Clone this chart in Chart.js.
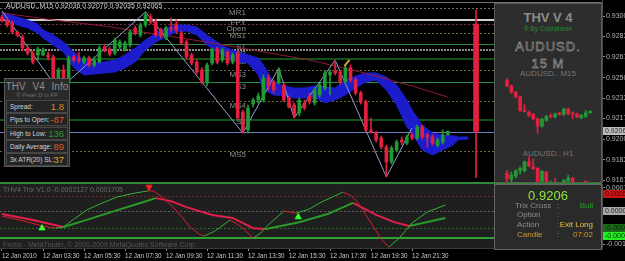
<!DOCTYPE html>
<html>
<head>
<meta charset="utf-8">
<script src="https://cdn.jsdelivr.net/npm/chart.js@4.4.1/dist/chart.umd.min.js"></script>
<style>
html, body { margin: 0; padding: 0; background: #000; }
body { width: 625px; height: 261px; overflow: hidden; position: relative; font-family: "Liberation Sans", Arial, sans-serif; }
canvas { position: absolute; }
.panel { position: absolute; box-sizing: border-box; background: #2a2a2a; border: 1px solid #5a5a5a; }
.t { position: absolute; white-space: nowrap; line-height: 1; }
.row { position: absolute; left: 1px; width: 62px; height: 13px; box-sizing: border-box; border: 1px solid #474747; background: #242424; }
.row .lab { left: 3px; top: 3px; font-size: 6.5px; color: #d4d4d4; }
.row .val { right: 3px; top: 1px; font-size: 9.5px; }
.c { left: 0; width: 100%; text-align: center; }
.outline { color: #2d2d2d; -webkit-text-stroke: 0.45px #b8b8b8; font-size: 13px; letter-spacing: 1px; }
.sig { font-size: 8px; color: #8c8c8c; }
</style>
</head>
<body>
<canvas id="mainChart" width="625" height="183" style="left:0;top:0"></canvas>
<div style="position:absolute;left:0;top:182px;width:602px;height:2px;background:#2f8a36"></div>
<canvas id="trixChart" width="625" height="77" style="left:0;top:184px"></canvas>

<div class="panel" style="left:4px;top:78px;width:66px;height:89px;">
  <div class="t c" style="top:3px;font-size:10px;color:#8e8e8e;word-spacing:4px">THV V4 Info</div>
  <div class="t c" style="top:13px;font-size:6px;color:#6e6e6e">® Peter D in FF</div>
  <div id="infoRows"></div>
</div>

<div class="panel" style="left:494px;top:3px;width:108px;height:180px;background:#2d2d2d;">
  <div class="t c" style="top:7px;font-size:13px;font-weight:bold;color:#8c8c8c">THV V 4</div>
  <div class="t c" style="top:22px;font-size:6.5px;color:#22902a">® By Cobraforex</div>
  <div class="t c outline" style="top:36px">AUDUSD.</div>
  <div class="t c outline" style="top:53px">15 M</div>
  <div class="t c" style="top:66px;font-size:8px;color:#767676">AUDUSD.. M15</div>
  <div class="t c" style="top:146px;font-size:8px;color:#767676">AUDUSD.. H1</div>
</div>
<canvas id="m15Chart" width="105" height="78" style="left:495px;top:74px"></canvas>
<canvas id="h1Chart" width="105" height="26" style="left:495px;top:156px"></canvas>

<div class="panel" style="left:494px;top:184px;width:108px;height:66px;background:#2a2a2a;border-color:#666">
  <div class="t c" style="top:4px;font-size:13px;color:#8fe634">0.9206</div>
  <div class="t sig" style="left:20px;top:17px">Trix Cross</div>
  <div class="t sig" style="left:62px;top:17px">:</div>
  <div class="t sig" style="right:8px;top:17px;color:#2aa02e">Bull</div>
  <div class="t sig" style="left:22px;top:26px">Option</div>
  <div class="t sig" style="left:62px;top:26px">:</div>
  <div class="t sig" style="left:22px;top:36px">Action</div>
  <div class="t sig" style="left:62px;top:36px">:</div>
  <div class="t sig" style="right:8px;top:36px;color:#e6c23a">Exit Long</div>
  <div class="t sig" style="left:22px;top:46px;color:#d89a2a">Candle</div>
  <div class="t sig" style="left:62px;top:46px">:</div>
  <div class="t sig" style="right:8px;top:46px;color:#d89a2a">07:02</div>
</div>

<script>
// ---- price data (M15 bars, bar 0 = 12 Jan 01:30) ----
const symbol = 'AUDUSD.';
const opens = [
  0.92992, 0.92968, 0.92943, 0.92870, 0.92830, 0.92741, 0.92700, 0.92684, 0.92684, 0.92684,
  0.92668, 0.92465, 0.92562, 0.92457, 0.92668, 0.92652, 0.92627, 0.92660, 0.92603, 0.92627,
  0.92749, 0.92733, 0.92700, 0.92749, 0.92733, 0.92765, 0.92903, 0.92846, 0.92927, 0.92992,
  0.92952, 0.92887, 0.92822, 0.92903, 0.92935, 0.92862, 0.92789, 0.92684, 0.92627, 0.92562,
  0.92457, 0.92619, 0.92733, 0.92643, 0.92708, 0.92627, 0.92700, 0.92222, 0.92076, 0.92286,
  0.92319, 0.92319, 0.92497, 0.92465, 0.92465, 0.92441, 0.92335, 0.92278, 0.92214, 0.92295,
  0.92352, 0.92295, 0.92360, 0.92416, 0.92522, 0.92554, 0.92546, 0.92465, 0.92579, 0.92481,
  0.92376, 0.92303, 0.92076, 0.92051, 0.92011, 0.91938, 0.91816, 0.91914, 0.91995, 0.91970,
  0.92035, 0.92011, 0.92100, 0.92035, 0.92019, 0.91954, 0.91978, 0.92036
];
const highs = [
  0.93008, 0.92984, 0.92960, 0.92879, 0.92846, 0.92765, 0.92716, 0.92749, 0.92741, 0.92708,
  0.92684, 0.92579, 0.92603, 0.92676, 0.92684, 0.92708, 0.92676, 0.92676, 0.92668, 0.92757,
  0.92773, 0.92749, 0.92822, 0.92806, 0.92797, 0.92887, 0.92919, 0.92943, 0.93033, 0.93016,
  0.92976, 0.92903, 0.92919, 0.92984, 0.92968, 0.92879, 0.92806, 0.92700, 0.92643, 0.92579,
  0.92619, 0.92741, 0.92749, 0.92741, 0.92725, 0.92700, 0.92725, 0.92238, 0.92278, 0.92335,
  0.92376, 0.92522, 0.92522, 0.92481, 0.92579, 0.92457, 0.92352, 0.92295, 0.92335, 0.92319,
  0.92376, 0.92416, 0.92457, 0.92554, 0.92562, 0.92643, 0.92562, 0.92595, 0.92603, 0.92497,
  0.92392, 0.92319, 0.92173, 0.92068, 0.92027, 0.91954, 0.91946, 0.91995, 0.92019, 0.92035,
  0.92051, 0.92116, 0.92116, 0.92051, 0.92035, 0.92011, 0.92076, 0.92070
];
const lows = [
  0.92952, 0.92911, 0.92854, 0.92830, 0.92725, 0.92684, 0.92611, 0.92643, 0.92676, 0.92643,
  0.92441, 0.92400, 0.92457, 0.92416, 0.92627, 0.92619, 0.92611, 0.92587, 0.92587, 0.92619,
  0.92708, 0.92676, 0.92684, 0.92733, 0.92716, 0.92749, 0.92846, 0.92830, 0.92911, 0.92935,
  0.92830, 0.92822, 0.92806, 0.92870, 0.92862, 0.92765, 0.92652, 0.92603, 0.92530, 0.92449,
  0.92433, 0.92603, 0.92611, 0.92627, 0.92603, 0.92611, 0.92157, 0.92051, 0.92051, 0.92262,
  0.92295, 0.92303, 0.92400, 0.92376, 0.92449, 0.92303, 0.92254, 0.92173, 0.92189, 0.92238,
  0.92286, 0.92278, 0.92343, 0.92400, 0.92360, 0.92522, 0.92449, 0.92449, 0.92465, 0.92360,
  0.92286, 0.92060, 0.92051, 0.91978, 0.91922, 0.91695, 0.91800, 0.91897, 0.91954, 0.91954,
  0.91995, 0.91995, 0.92003, 0.91938, 0.91954, 0.91938, 0.91962, 0.92035
];
const closes = [
  0.92960, 0.92927, 0.92870, 0.92846, 0.92741, 0.92700, 0.92627, 0.92733, 0.92725, 0.92668,
  0.92465, 0.92562, 0.92481, 0.92660, 0.92643, 0.92643, 0.92660, 0.92603, 0.92643, 0.92741,
  0.92725, 0.92692, 0.92806, 0.92789, 0.92781, 0.92870, 0.92862, 0.92927, 0.93008, 0.92952,
  0.92846, 0.92838, 0.92903, 0.92895, 0.92887, 0.92781, 0.92668, 0.92619, 0.92546, 0.92465,
  0.92603, 0.92725, 0.92627, 0.92725, 0.92619, 0.92684, 0.92173, 0.92076, 0.92254, 0.92319,
  0.92352, 0.92497, 0.92433, 0.92400, 0.92546, 0.92319, 0.92262, 0.92197, 0.92319, 0.92254,
  0.92303, 0.92400, 0.92441, 0.92538, 0.92546, 0.92538, 0.92465, 0.92579, 0.92481, 0.92376,
  0.92303, 0.92076, 0.92060, 0.91995, 0.91938, 0.91816, 0.91930, 0.91978, 0.91978, 0.92019,
  0.92011, 0.92100, 0.92019, 0.92019, 0.91970, 0.91995, 0.92035, 0.92065
];

// daily candle drawn right of the last bar
const dailyAt = [92.5];
const dailyOpen = [0.92935];
const dailyHigh = [0.93050];
const dailyLow = [0.91690];
const dailyClose = [0.92065];

// blue cloud band
const cloudK = [0, 3, 5, 7, 8, 10, 12, 14, 16, 18, 20, 22, 24, 26, 28, 30, 32, 34, 36, 38, 40, 42, 44, 46, 48,
  50, 51, 53, 55, 57, 59, 61, 63, 65, 67, 69, 71, 73, 75, 77, 79, 80, 82, 84, 86, 88, 89, 91];
const cloudTop = [0.93033, 0.92992, 0.92968, 0.92935, 0.92887, 0.92846, 0.92789, 0.92708, 0.92643, 0.92619,
  0.92627, 0.92643, 0.92684, 0.92741, 0.92806, 0.92862, 0.92903, 0.92927, 0.92927, 0.92911,
  0.92846, 0.92789, 0.92741, 0.92708, 0.92684, 0.92660, 0.92603, 0.92465, 0.92433, 0.92416,
  0.92416, 0.92433, 0.92424, 0.92416, 0.92481, 0.92514, 0.92538, 0.92538, 0.92506, 0.92441,
  0.92319, 0.92238, 0.92116, 0.92051, 0.92035, 0.92027, 0.92019, 0.92019];
const cloudBot = [0.92984, 0.92927, 0.92903, 0.92862, 0.92822, 0.92765, 0.92708, 0.92579, 0.92522, 0.92530,
  0.92538, 0.92546, 0.92579, 0.92627, 0.92725, 0.92789, 0.92830, 0.92870, 0.92879, 0.92846,
  0.92765, 0.92708, 0.92660, 0.92627, 0.92619, 0.92522, 0.92400, 0.92360, 0.92352, 0.92335,
  0.92335, 0.92343, 0.92295, 0.92319, 0.92360, 0.92416, 0.92465, 0.92481, 0.92400, 0.92278,
  0.92100, 0.92051, 0.91914, 0.91873, 0.91914, 0.91954, 0.91995, 0.92003];

// slow moving average
const maK = [0, 10, 20, 30, 40, 50, 60, 70, 80, 87];
const maVals = [0.93025, 0.92968, 0.92919, 0.92854, 0.92789, 0.92716, 0.92643, 0.92546, 0.92433, 0.92343];

// zigzag
const zigK = [0, 11, 28, 47, 54, 57, 65, 75, 80];
const zigVals = [0.93041, 0.92400, 0.93033, 0.92051, 0.92579, 0.92173, 0.92643, 0.91695, 0.92092];

// horizontal levels and pivot labels
const levels = [0.93065, 0.92964, 0.92935, 0.92862, 0.92773, 0.92724, 0.92651, 0.92562, 0.92465, 0.92311, 0.92157, 0.92060, 0.91905];
const pivotNames = ['MR1', 'FPY', 'Open', 'MS1', 'S1', 'PP', 'S2', 'MS3', 'S3', 'MS4', 'S4', 'MS5'];
const pivotPrices = [0.93025, 0.92943, 0.92895, 0.92838, 0.92749, 0.92692, 0.92627, 0.92522, 0.92424, 0.92270, 0.92141, 0.91873];
const priceTicks = [0.93000, 0.92835, 0.92670, 0.92500, 0.92335, 0.92170, 0.92000, 0.91835, 0.91670];
const signalK = [67.3];
const signalP = [0.92619];

// Trix indicator
const trixFast = [[0, -0.00017], [3.5, -0.0003], [8, -0.0005], [10.5, -0.00057], [12, -0.00053], [14, -0.00027],
  [16.5, 0.00003], [19, 0.00023], [22.5, 0.00047], [26, 0.0006], [28.5, 0.00067], [29.5, 0.00067], [31, 0.0005],
  [33, 0.0002], [35, -0.00017], [36.5, -0.0005], [38.5, -0.00077], [39.5, -0.00083], [41.5, -0.00067],
  [44.5, -0.0003], [46.5, -0.0005], [48, -0.00073], [49, -0.0009], [50.5, -0.00073], [51.5, -0.00053],
  [53.5, -0.00023], [55, 0], [56, -0.00003], [57.5, -0.00007], [60, 0.00007], [62, 0.00027], [64, 0.00043],
  [66.5, 0.00063], [68, 0.00053], [69.5, 0.00027], [71, -0.00013], [72.5, -0.00053], [74, -0.00093],
  [75.5, -0.0012], [77.5, -0.0009], [80, -0.0004], [83, -0.00003], [86.5, 0.0002]];
const trixSlow = [[0, -0.0001], [6, -0.0003], [12, -0.00053], [17, -0.00027], [22.5, 0.00003], [27, 0.00027],
  [30, 0.00043], [33, 0.00033], [36, 0.00013], [41, -0.00013], [45, -0.00023], [49, -0.00057], [51.5, -0.0006],
  [58, -0.00037], [63.5, -0.0001], [68.5, 0.00027], [73, -0.00013], [76.5, -0.00037], [79.5, -0.0005], [86.5, -0.00023]];
const trixLevels = [0.0005, 0, -0.00056, -0.0009];
const trixTicks = [0.00077, -0.00111];
const trixBoxes = [0.00056, 0, -0.00056, -0.00083];
const arrowK = [7.8, 28.7, 57.8];
const arrowVal = [-0.00057, 0.0008, -0.0002];
const arrowUp = [true, false, true];

const timeTickBars = [0, 8, 16, 24, 32, 40, 48, 56, 64, 72, 80];
const timeLabels = ['12 Jan 2010', '12 Jan 03:30', '12 Jan 05:30', '12 Jan 07:30', '12 Jan 09:30', '12 Jan 11:30',
  '12 Jan 13:30', '12 Jan 15:30', '12 Jan 17:30', '12 Jan 19:30', '12 Jan 21:30'];

const infoRows = [['Spread:', '1.8'], ['Pips to Open:', '-87'], ['High to Low:', '136'], ['Daily Average:', '89'], ['3x ATR(20) SL:', '37']];

// ---- styles ----
const UP = '#1f9b33';
const DOWN = '#e3203f';
const CLOUD = '#1c1ccc';
const FONT = 'Liberation Sans';
const AXIS_W = 23;
const X_MIN = -0.39;
const X_MAX = 117.07;
const levelStyles = [
  { color: '#6c6c6c', width: 1, dash: [2, 2] },
  { color: '#cfcfcf', width: 2, dash: [] },
  { color: '#7a2a4a', width: 1, dash: [2, 2] },
  { color: '#6b6b3a', width: 1, dash: [2, 2] },
  { color: '#2a8a4a', width: 1, dash: [] },
  { color: '#8a8a8a', width: 2, dash: [2, 1] },
  { color: '#0e5418', width: 2, dash: [] },
  { color: '#6b6b3a', width: 1, dash: [2, 2] },
  { color: '#2a8a4a', width: 1, dash: [] },
  { color: '#6b6b3a', width: 1, dash: [2, 2] },
  { color: '#0e5418', width: 2, dash: [] },
  { color: '#6a80c0', width: 1, dash: [] },
  { color: '#6b6b3a', width: 1, dash: [2, 2] }
];
const trixLevelStyles = [
  { color: '#7a2424', width: 1, dash: [2, 2] },
  { color: '#5e5e5e', width: 1, dash: [2, 2] },
  { color: '#2a6a2a', width: 1, dash: [2, 2] },
  { color: '#2fa034', width: 2, dash: [] }
];
const trixBoxStyles = [
  { fill: '#c01818', text: '#5a0000' },
  { fill: '#a8a8a8', text: '#2a2a2a' },
  { fill: '#1a6a1a', text: '#062806' },
  { fill: '#22ee22', text: '#043004' }
];

document.getElementById('infoRows').innerHTML = infoRows.map((r, i) => {
  const colors = ['#d88a22', '#e4502a', '#2a9a30', '#d85a22', '#e0a424'];
  return `<div class="row" style="top:${21 + i * 13.3}px"><span class="t lab">${r[0]}</span><span class="t val" style="color:${colors[i]}">${r[1]}</span></div>`;
}).join('');

function candleDatasets(xs, o, h, l, c, bodyW, order) {
  const col = xs.map((_, i) => c[i] >= o[i] ? UP : DOWN);
  return [
    { type: 'bar', data: xs.map((x, i) => ({ x, y: [l[i], h[i]] })), backgroundColor: col, barThickness: 1, grouped: false, order: order + 1 },
    { type: 'bar', data: xs.map((x, i) => ({ x, y: [o[i], c[i]] })), backgroundColor: col, barThickness: bodyW, minBarLength: 1, grouped: false, order }
  ];
}

function hLine(ctx, a, py, s) {
  ctx.strokeStyle = s.color;
  ctx.lineWidth = s.width;
  ctx.setLineDash(s.dash);
  const yy = s.width % 2 ? Math.round(py) + 0.5 : Math.round(py);
  ctx.beginPath();
  ctx.moveTo(a.left, yy);
  ctx.lineTo(a.right, yy);
  ctx.stroke();
}

const baseOpts = {
  responsive: false,
  animation: false,
  devicePixelRatio: 1,
  layout: { padding: 0, autoPadding: false },
  plugins: { legend: { display: false }, tooltip: { enabled: false } }
};

// ---- main price chart ----
const barIdx = opens.map((_, i) => i);
const mainPlugin = {
  id: 'mainDecor',
  beforeDatasetsDraw(chart) {
    const { ctx, chartArea: a, scales: { x, y } } = chart;
    ctx.save();
    hLine(ctx, a, 1.5, { color: '#707070', width: 1, dash: [] });
    levels.forEach((v, i) => hLine(ctx, a, y.getPixelForValue(v), levelStyles[i]));
    ctx.setLineDash([]);
    ctx.font = `8px "${FONT}"`;
    ctx.fillStyle = '#8c8c8c';
    ctx.textAlign = 'right';
    ctx.textBaseline = 'middle';
    const lx = x.getPixelForValue(47.6);
    pivotNames.forEach((n, i) => ctx.fillText(n, lx, y.getPixelForValue(pivotPrices[i])));
    ctx.restore();
  },
  afterDraw(chart) {
    const { ctx, chartArea: a, scales: { y } } = chart;
    const n = closes.length - 1;
    ctx.save();
    ctx.font = `7px "${FONT}"`;
    ctx.textBaseline = 'middle';
    ctx.textAlign = 'left';
    ctx.fillStyle = '#d2d2d2';
    ctx.fillText(`${symbol},M15 ${opens[n].toFixed(5)} ${highs[n].toFixed(5)} ${lows[n].toFixed(5)} ${closes[n].toFixed(5)}`, 6, 6);
    const py = Math.round(y.getPixelForValue(closes[n]));
    ctx.fillStyle = '#bcbcbc';
    ctx.fillRect(a.right + 1, py - 4, 30, 8);
    ctx.fillStyle = '#2a2a2a';
    ctx.fillText(closes[n].toFixed(5), a.right + 3, py);
    ctx.restore();
  }
};

new Chart(document.getElementById('mainChart'), {
  type: 'bar',
  data: {
    datasets: [
      { type: 'line', data: cloudK.map((k, i) => ({ x: k, y: cloudTop[i] })), borderColor: CLOUD, backgroundColor: CLOUD, borderWidth: 1, pointRadius: 0, fill: '+1', order: 7 },
      { type: 'line', data: cloudK.map((k, i) => ({ x: k, y: cloudBot[i] })), borderColor: CLOUD, borderWidth: 1, pointRadius: 0, fill: false, order: 6 },
      { type: 'line', data: maK.map((k, i) => ({ x: k, y: maVals[i] })), borderColor: '#8e1c2e', borderWidth: 1, pointRadius: 0, fill: false, order: 5 },
      { type: 'line', data: zigK.map((k, i) => ({ x: k, y: zigVals[i] })), borderColor: '#8ea2cc', borderWidth: 1, pointRadius: 0, fill: false, order: 4 },
      ...candleDatasets(barIdx, opens, highs, lows, closes, 3, 1),
      ...candleDatasets(dailyAt, dailyOpen, dailyHigh, dailyLow, dailyClose, 5, 1),
      { type: 'line', data: signalK.map((k, i) => ({ x: k, y: signalP[i] })), showLine: false, pointStyle: 'line', pointRadius: 4, pointRotation: -50, borderColor: '#e0a020', borderWidth: 2, order: 0 }
    ]
  },
  options: {
    ...baseOpts,
    scales: {
      x: { type: 'linear', display: false, min: X_MIN, max: X_MAX, offset: false },
      y: {
        position: 'right', min: 0.91646, max: 0.93130,
        afterBuildTicks: s => { s.ticks = priceTicks.map(v => ({ value: v })); },
        afterFit: s => { s.width = AXIS_W; s.paddingTop = 0; s.paddingBottom = 0; },
        ticks: { color: '#b4b4b4', font: { size: 7, family: FONT }, padding: 1, callback: v => v.toFixed(5) },
        grid: { drawOnChartArea: false, tickLength: 3, color: '#8a8a8a' },
        border: { color: '#4a4a4a' }
      }
    }
  },
  plugins: [mainPlugin]
});

// ---- Trix sub-window ----
const trixSeg = (up, down) => ({ borderColor: ctx => ctx.p1.parsed.y > ctx.p0.parsed.y ? up : down });
const trixPlugin = {
  id: 'trixDecor',
  beforeDatasetsDraw(chart) {
    const { ctx, chartArea: a, scales: { y } } = chart;
    ctx.save();
    ctx.fillStyle = '#1f1f1f';
    ctx.fillRect(a.left, a.top, a.right - a.left, a.bottom - a.top);
    trixLevels.forEach((v, i) => hLine(ctx, a, y.getPixelForValue(v), trixLevelStyles[i]));
    ctx.setLineDash([]);
    ctx.font = `7px "${FONT}"`;
    ctx.textBaseline = 'middle';
    ctx.fillStyle = '#6a6a6a';
    ctx.fillText('THV4 Trix V1.0 -0.0002127 0.0001705', 3, a.top + 6);
    ctx.fillStyle = '#555';
    ctx.fillText('Fxcbs - MetaTrader, \u00a9 2001-2009 MetaQuotes Software Corp.', 3, a.bottom - 3);
    ctx.restore();
  },
  afterDraw(chart) {
    const { ctx, chartArea: a, scales: { y } } = chart;
    ctx.save();
    ctx.font = `7px "${FONT}"`;
    ctx.textBaseline = 'middle';
    trixBoxes.forEach((v, i) => {
      const py = Math.round(y.getPixelForValue(v));
      ctx.fillStyle = trixBoxStyles[i].fill;
      ctx.fillRect(a.right + 1, py - 4, 30, 8);
      ctx.fillStyle = trixBoxStyles[i].text;
      ctx.fillText(v.toFixed(5), a.right + 3, py);
    });
    ctx.restore();
  }
};

new Chart(document.getElementById('trixChart'), {
  type: 'line',
  data: {
    datasets: [
      { data: trixSlow.map(([k, v]) => ({ x: k, y: v })), borderWidth: 2, pointRadius: 0, segment: trixSeg('#2a9a2a', '#e0204a'), borderColor: '#2a9a2a', order: 2 },
      { data: trixFast.map(([k, v]) => ({ x: k, y: v })), borderWidth: 1, pointRadius: 0, segment: trixSeg('#33b233', '#d81c2c'), borderColor: '#33b233', order: 1 },
      {
        data: arrowK.map((k, i) => ({ x: k, y: arrowVal[i] })), showLine: false, pointStyle: 'triangle', pointRadius: 3.5,
        pointRotation: arrowUp.map(u => u ? 0 : 180),
        pointBackgroundColor: arrowUp.map(u => u ? '#33ff33' : '#ff2020'),
        pointBorderColor: arrowUp.map(u => u ? '#33ff33' : '#ff2020'), order: 0
      }
    ]
  },
  options: {
    ...baseOpts,
    scales: {
      x: {
        type: 'linear', min: X_MIN, max: X_MAX, offset: false,
        afterBuildTicks: s => { s.ticks = timeTickBars.map(v => ({ value: v })); },
        afterFit: s => { s.height = 13; s.paddingLeft = 0; s.paddingRight = 0; },
        ticks: { color: '#c8c8c8', font: { size: 6.3, family: FONT }, align: 'start', autoSkip: false, maxRotation: 0, padding: 1,
          callback: (v, i) => timeLabels[i] },
        grid: { drawOnChartArea: false, tickLength: 3, color: '#8a8a8a' },
        border: { color: '#3a3a3a' }
      },
      y: {
        position: 'right', min: -0.00123, max: 0.0009,
        afterBuildTicks: s => { s.ticks = trixTicks.map(v => ({ value: v })); },
        afterFit: s => { s.width = AXIS_W; s.paddingTop = 0; s.paddingBottom = 0; },
        ticks: { color: '#b4b4b4', font: { size: 7, family: FONT }, padding: 1, callback: v => v.toFixed(5) },
        grid: { drawOnChartArea: false, tickLength: 3, color: '#8a8a8a' },
        border: { color: '#4a4a4a' }
      }
    }
  },
  plugins: [trixPlugin]
});

// ---- mini charts in the side panel ----
function miniChart(id, xs, o, h, l, c, xMin, xMax, yMin, yMax) {
  new Chart(document.getElementById(id), {
    type: 'bar',
    data: { datasets: candleDatasets(xs, o, h, l, c, 3, 0) },
    options: {
      ...baseOpts,
      scales: {
        x: { type: 'linear', display: false, min: xMin, max: xMax, offset: false },
        y: { display: false, min: yMin, max: yMax }
      }
    }
  });
}

const m15From = opens.length - 20;
const m15Idx = barIdx.slice(m15From);
miniChart('m15Chart', m15Idx, opens.slice(m15From), highs.slice(m15From), lows.slice(m15From), closes.slice(m15From),
  m15From - 2.75, m15From - 2.75 + 24.03, 0.91391, 0.92678);

// hourly candles built from groups of four M15 bars
const h1Idx = [], h1O = [], h1H = [], h1L = [], h1C = [];
for (let g = 2; g * 4 < opens.length; g++) {
  const s = g * 4, e = Math.min(s + 4, opens.length);
  h1Idx.push(g);
  h1O.push(opens[s]);
  h1C.push(closes[e - 1]);
  h1H.push(Math.max(...highs.slice(s, e)));
  h1L.push(Math.min(...lows.slice(s, e)));
}
miniChart('h1Chart', h1Idx, h1O, h1H, h1L, h1C, -0.75, 23.28, 0.92501, 0.93049);
</script>
</body>
</html>
